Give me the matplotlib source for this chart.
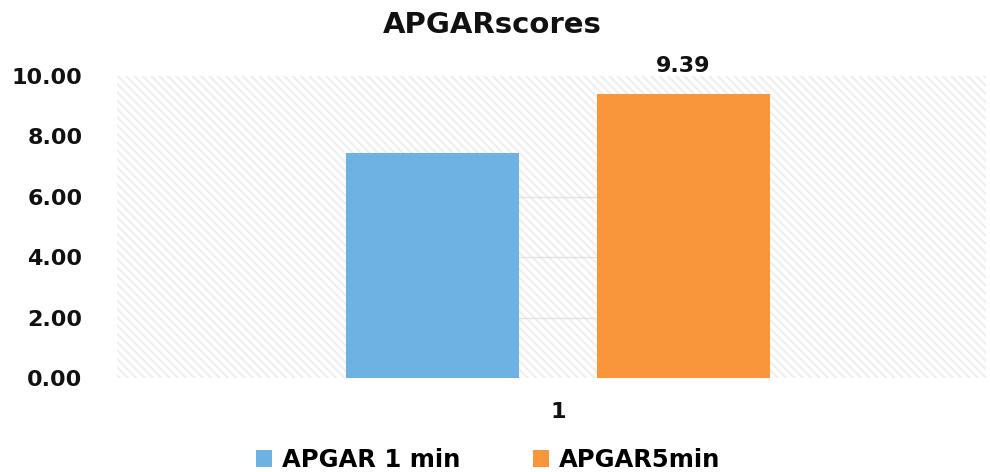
import matplotlib
matplotlib.use("Agg")
import matplotlib.pyplot as plt
from matplotlib.patches import Patch
import numpy as np

plt.rcParams['font.family'] = ['DejaVu Sans']
plt.rcParams['hatch.linewidth'] = 1.6

title = "APGARscores"
categories = ["1"]
series_names = ["APGAR 1 min", "APGAR5min"]
series_values = [[7.45], [9.39]]
series_labels = [None, "9.39"]
colors = ["#6EB2E4", "#F9963C"]
y_ticks = [0, 2, 4, 6, 8, 10]
y_tick_labels = ["0.00", "2.00", "4.00", "6.00", "8.00", "10.00"]

fig = plt.figure(figsize=(9.9, 4.72), dpi=100)
ax = fig.add_axes([117/990, 1-378/472, 869/990, (378-76)/472])

ax.patch.set_facecolor("white")
ax.patch.set_edgecolor("#efefef")
ax.patch.set_hatch("\\\\\\\\")
ax.patch.set_linewidth(0)

x = np.arange(len(categories))
width = 0.2
offsets = [-0.1445, 0.1445]
bars = []
for vals, off, col, name in zip(series_values, offsets, colors, series_names):
    b = ax.bar(x + off, vals, width=width, color=col, label=name, zorder=3)
    bars.append(b)

# gridlines visible only in the gap between the bars
left_edge = bars[0][0].get_x() + bars[0][0].get_width()
right_edge = bars[1][0].get_x()
for t in y_ticks[1:4]:
    ax.plot([left_edge, right_edge], [t, t], color="#e2e2e2", lw=1.0, zorder=2)

for b, lab in zip(bars, series_labels):
    if lab:
        r = b[0]
        ax.annotate(lab, (r.get_x() + r.get_width()/2, r.get_height()),
                    xytext=(0, 13), textcoords="offset points",
                    ha="center", va="bottom", fontsize=16, fontweight="bold",
                    color="#111111")

ax.set_ylim(0, 10)
ax.set_xlim(-0.5075, 0.4925)
ax.set_yticks(y_ticks)
ax.set_yticklabels(y_tick_labels, fontsize=16, fontweight="bold", color="#111111")
ax.set_xticks(x)
ax.set_xticklabels(categories, fontsize=16, fontweight="bold", color="#111111")
ax.tick_params(axis="y", length=0, pad=25)
ax.tick_params(axis="x", length=0, pad=17)
for s in ax.spines.values():
    s.set_visible(False)

fig.text(0.497, 1-25/472, title, ha="center", va="center",
         fontsize=21, fontweight="bold", color="#111111")

handles = [Patch(facecolor=c, label=n) for c, n in zip(colors, series_names)]
fig.legend(handles=handles, loc="center", bbox_to_anchor=(0.493, 1-460/472),
           ncol=2, frameon=False, prop={"size": 17.5, "weight": "bold"},
           handlelength=0.65, handleheight=0.65, handletextpad=0.4,
           columnspacing=3.0, borderpad=0)

fig.savefig("out.png", dpi=100)
